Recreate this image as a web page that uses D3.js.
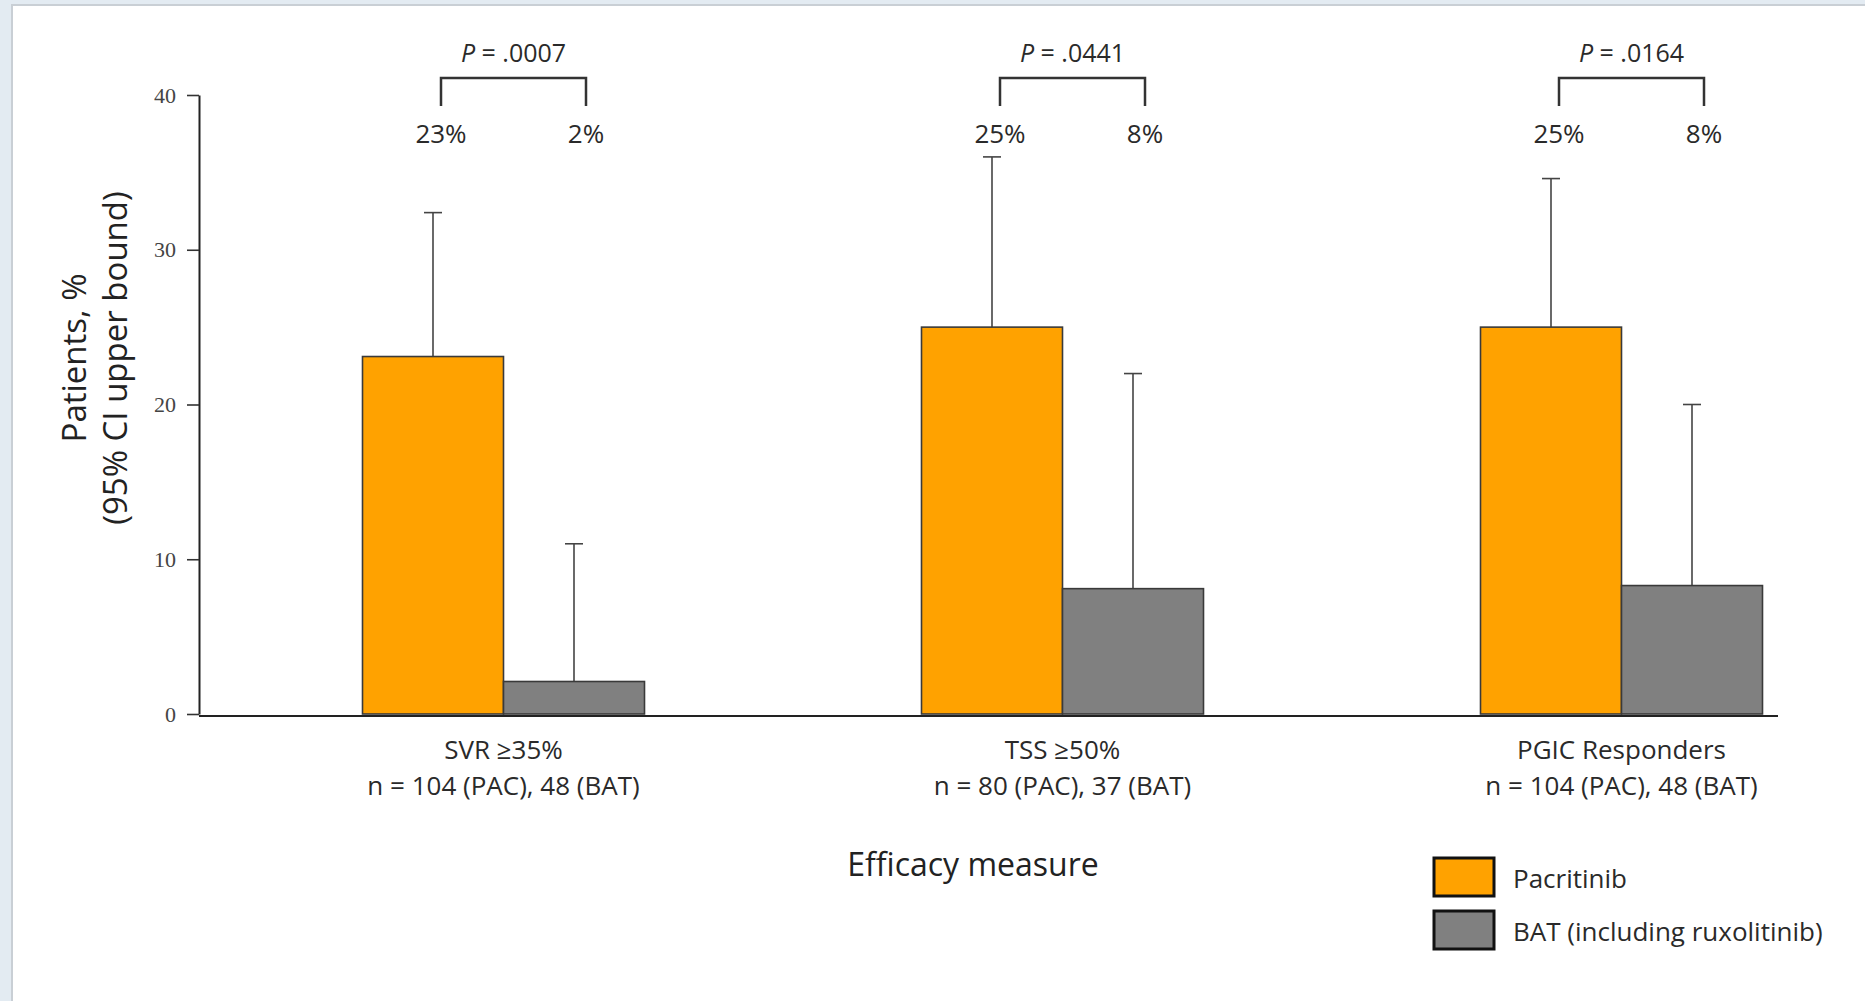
<!DOCTYPE html>
<html>
<head>
<meta charset="utf-8">
<script src="https://cdn.jsdelivr.net/npm/d3@7"></script>
<style>
  body { margin: 0; background: #e3ebf2; }
  svg { display: block; }
</style>
</head>
<body>
<script>
// chart data
var measures = ["SVR ≥35%", "TSS ≥50%", "PGIC Responders"];
var sampleSizes = ["n = 104 (PAC), 48 (BAT)", "n = 80 (PAC), 37 (BAT)", "n = 104 (PAC), 48 (BAT)"];
var series = ["Pacritinib", "BAT (including ruxolitinib)"];
var pacritinib = [23.1, 25, 25];
var bat = [2.1, 8.1, 8.3];
var pacritinibUpper = [32.4, 36.0, 34.6];
var batUpper = [11.0, 22.0, 20.0];
var pctLabels = [["23%", "2%"], ["25%", "8%"], ["25%", "8%"]];
var pValues = [".0007", ".0441", ".0164"];
var yTicks = [0, 10, 20, 30, 40];
var colors = ["#ffa200", "#808080"];

var W = 1865, H = 1001;
var font = "'Open Sans', sans-serif";

var svg = d3.select("body").append("svg")
    .attr("width", W)
    .attr("height", H);

// panel
svg.append("rect").attr("x", 11).attr("y", 4).attr("width", W - 11).attr("height", H - 4).attr("fill", "#c9cfd5");
svg.append("rect").attr("x", 13).attr("y", 6).attr("width", W - 13).attr("height", H - 6).attr("fill", "#fff");

// scales
var x0 = d3.scaleBand().domain(measures).range([224, 1901]);
var x1 = d3.scaleBand().domain(series).range([-141, 141]);
var y = d3.scaleLinear().domain([0, 40]).range([714, 95]);

function center(i) { return x0(measures[i]) + x0.bandwidth() / 2; }
function barMid(i, s) { return center(i) + x1(series[s]) + x1.bandwidth() / 2; }

var rows = measures.map(function(m, i) {
  return [
    {i: i, s: 0, v: pacritinib[i], up: pacritinibUpper[i]},
    {i: i, s: 1, v: bat[i], up: batUpper[i]}
  ];
});
var flat = d3.merge(rows);

// error bars (behind bars)
var err = svg.append("g").attr("stroke", "#444").attr("stroke-width", 1.6);
err.selectAll("line.v").data(flat).enter().append("line")
    .attr("x1", function(d) { return barMid(d.i, d.s); })
    .attr("x2", function(d) { return barMid(d.i, d.s); })
    .attr("y1", function(d) { return y(d.v); })
    .attr("y2", function(d) { return y(d.up); });
err.selectAll("line.c").data(flat).enter().append("line")
    .attr("x1", function(d) { return barMid(d.i, d.s) - 9; })
    .attr("x2", function(d) { return barMid(d.i, d.s) + 9; })
    .attr("y1", function(d) { return y(d.up); })
    .attr("y2", function(d) { return y(d.up); });

// bars
svg.append("g").selectAll("rect").data(flat).enter().append("rect")
    .attr("x", function(d) { return center(d.i) + x1(series[d.s]); })
    .attr("width", x1.bandwidth())
    .attr("y", function(d) { return y(d.v); })
    .attr("height", function(d) { return y(0) - y(d.v); })
    .attr("fill", function(d) { return colors[d.s]; })
    .attr("stroke", "#3a3a3a")
    .attr("stroke-width", 1.6);

// y axis
var yAxis = d3.axisLeft(y).tickValues(yTicks).tickSize(12).tickSizeOuter(0).tickPadding(11);
var gy = svg.append("g")
    .attr("transform", "translate(199,0)")
    .call(yAxis);
gy.select(".domain").attr("stroke", "#222").attr("stroke-width", 2);
gy.selectAll(".tick line").attr("stroke", "#333").attr("stroke-width", 1.6);
gy.selectAll(".tick text")
    .attr("font-family", "'Liberation Serif', serif")
    .attr("font-size", 22)
    .attr("fill", "#444");

// x axis line
svg.append("line")
    .attr("x1", 199).attr("x2", 1778)
    .attr("y1", y(0) + 2).attr("y2", y(0) + 2)
    .attr("stroke", "#222").attr("stroke-width", 2);

// category labels
var cat = svg.append("g").attr("font-family", font).attr("font-size", 26).attr("fill", "#2a2a2a").attr("text-anchor", "middle");
cat.selectAll("text.m").data(measures).enter().append("text")
    .attr("x", function(d, i) { return center(i); })
    .attr("y", 759)
    .text(function(d) { return d; });
cat.selectAll("text.n").data(sampleSizes).enter().append("text")
    .attr("x", function(d, i) { return center(i); })
    .attr("y", 795)
    .text(function(d) { return d; });

// brackets, P values and percentages
var ann = svg.append("g").attr("font-family", font).attr("fill", "#2a2a2a").attr("text-anchor", "middle");
measures.forEach(function(m, i) {
  var xl = barMid(i, 0) + 8, xr = barMid(i, 1) + 12;
  ann.append("path")
      .attr("d", "M" + xl + ",106V78H" + xr + "V106")
      .attr("fill", "none").attr("stroke", "#333").attr("stroke-width", 2.5);
  var t = ann.append("text").attr("x", (xl + xr) / 2).attr("y", 62).attr("font-size", 25);
  t.append("tspan").attr("font-style", "italic").text("P");
  t.append("tspan").text(" = " + pValues[i]);
  ann.append("text").attr("x", xl).attr("y", 143).attr("font-size", 26).text(pctLabels[i][0]);
  ann.append("text").attr("x", xr).attr("y", 143).attr("font-size", 26).text(pctLabels[i][1]);
});

// axis titles
var yt = svg.append("g").attr("font-family", font).attr("font-size", 33).attr("fill", "#222").attr("text-anchor", "middle");
yt.append("text").attr("transform", "translate(86,358) rotate(-90)").text("Patients, %");
yt.append("text").attr("transform", "translate(127,358) rotate(-90)").text("(95% CI upper bound)");

svg.append("text")
    .attr("x", 973).attr("y", 876)
    .attr("font-family", font).attr("font-size", 32).attr("fill", "#222")
    .attr("text-anchor", "middle")
    .text("Efficacy measure");

// legend
var leg = svg.append("g").attr("transform", "translate(1434,858)");
var li = leg.selectAll("g").data(series).enter().append("g")
    .attr("transform", function(d, i) { return "translate(0," + i * 53 + ")"; });
li.append("rect")
    .attr("width", 60).attr("height", 38)
    .attr("fill", function(d, i) { return colors[i]; })
    .attr("stroke", "#111").attr("stroke-width", 3);
li.append("text")
    .attr("x", 79).attr("y", 30)
    .attr("font-family", font).attr("font-size", 26).attr("fill", "#2a2a2a")
    .text(function(d) { return d; });
</script>
</body>
</html>
